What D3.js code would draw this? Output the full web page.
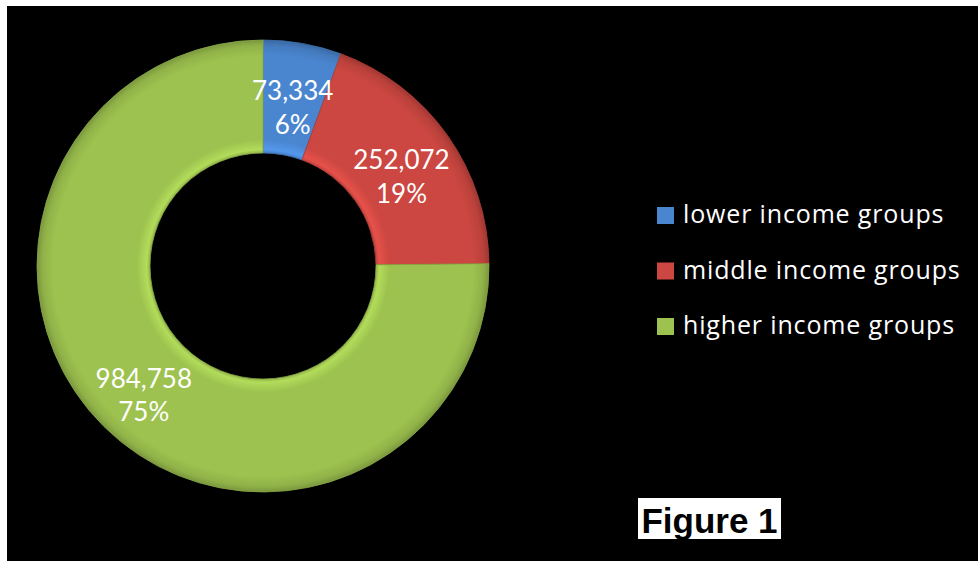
<!DOCTYPE html>
<html><head><meta charset="utf-8">
<script src="https://cdn.jsdelivr.net/npm/d3@7"></script>
<style>html,body{margin:0;padding:0;background:#fff;}svg{display:block;}</style>
</head><body>
<svg id="c" width="978" height="561"></svg>
<script>
const categories = ["lower income groups", "middle income groups", "higher income groups"];
const values = [73334, 252072, 984758];
const percentLabels = ["6%", "19%", "75%"];
const colors = ["#4a86d0", "#cc4741", "#9dc24f"];

const svg = d3.select("#c");
svg.append("rect").attr("x", 7).attr("y", 6).attr("width", 971).attr("height", 555).attr("fill", "#000");

const cx = 263, cy = 266, R = 226, r = 113;
const defs = svg.append("defs");
colors.forEach((c, i) => {
  const g = defs.append("radialGradient").attr("id", "g" + i)
    .attr("gradientUnits", "userSpaceOnUse").attr("cx", 0).attr("cy", 0).attr("r", R);
  const base = d3.color(c);
  const stops = [
    [0.49, base.darker(0.6)], [0.515, base.brighter(0.35)], [0.56, base],
    [0.93, base], [0.975, base.darker(0.25)], [1, base.darker(0.7)]
  ];
  stops.forEach(([o, col]) => g.append("stop").attr("offset", o).attr("stop-color", col.formatHex()));
});

const pie = d3.pie().sort(null).value(d => d)(values);
const arc = d3.arc().innerRadius(r).outerRadius(R);
const gChart = svg.append("g").attr("transform", `translate(${cx},${cy})`);
gChart.selectAll("path.slice").data(pie).join("path").attr("class", "slice")
  .attr("d", arc).attr("fill", (d, i) => `url(#g${i})`)
  .attr("stroke", (d, i) => d3.color(colors[i]).darker(0.4)).attr("stroke-width", 0.8);

const fmt = d3.format(",");
const lab = gChart.selectAll("text.lab").data(pie).join("text").attr("class", "lab")
  .attr("transform", d => { const [x, y] = arc.centroid(d); return `translate(${x},${y + 5})`; })
  .attr("text-anchor", "middle").attr("fill", "#fff")
  .style("font-family", "Lato, 'Open Sans', sans-serif").style("font-size", "26px");
lab.append("tspan").attr("x", 0).attr("dy", "-0.15em").text(d => fmt(d.data));
lab.append("tspan").attr("x", 0).attr("dy", "1.3em").text((d, i) => percentLabels[i]);

const leg = svg.append("g").selectAll("g").data(categories).join("g")
  .attr("transform", (d, i) => `translate(657,${207 + i * 55.5})`);
leg.append("rect").attr("width", 17).attr("height", 17).attr("fill", (d, i) => colors[i]);
leg.append("text").attr("x", 26).attr("y", 16).attr("fill", "#fff")
  .style("font-family", "'Open Sans', Lato, sans-serif").style("font-size", "25px")
  .style("letter-spacing", "0.85px").text(d => d);

svg.append("rect").attr("x", 638).attr("y", 498).attr("width", 143).attr("height", 41).attr("fill", "#fff");
svg.append("text").attr("x", 709.5).attr("y", 533).attr("text-anchor", "middle")
  .style("font-family", "'Liberation Sans', Arial, sans-serif").style("font-weight", "bold")
  .style("font-size", "35px").attr("fill", "#000").text("Figure 1");
</script>
</body></html>
